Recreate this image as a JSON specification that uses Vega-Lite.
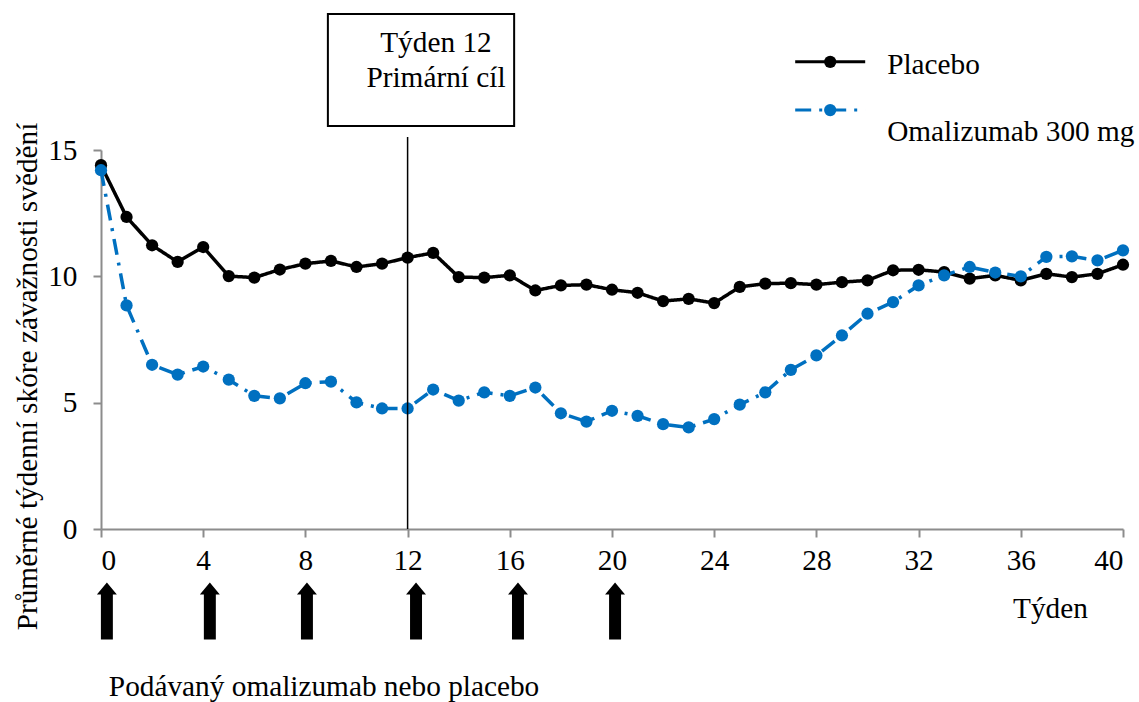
{
  "$schema": "https://vega.github.io/schema/vega-lite/v6.json",
  "width": 1022,
  "height": 379,
  "autosize": {"type": "none"},
  "padding": {"left": 101, "top": 150, "right": 16, "bottom": 173},
  "background": "white",
  "config": {
    "view": {"stroke": null},
    "font": "Liberation Serif",
    "text": {"font": "Liberation Serif", "fontSize": 29.3, "color": "black"},
    "axis": {
      "labelFont": "Liberation Serif",
      "labelFontSize": 29.3,
      "labelColor": "black",
      "titleFont": "Liberation Serif",
      "titleFontSize": 29.3,
      "titleFontWeight": "normal",
      "titleColor": "black",
      "domainColor": "#8c8c8c",
      "domainWidth": 2,
      "tickColor": "#8c8c8c",
      "tickWidth": 2,
      "tickSize": 8,
      "grid": false
    },
    "axisX": {"labelPadding": 9, "labelAngle": 0, "titleX": 949, "titleY": 79, "titleBaseline": "middle", "titleAlign": "center"},
    "axisY": {"labelPadding": 16, "titleX": -74, "titleY": 226, "titleAngle": -90, "titleBaseline": "middle", "titleAlign": "center"}
  },
  "datasets": {
    "trend": [
      {"week": 0, "series": "Placebo", "score": 14.4},
      {"week": 1, "series": "Placebo", "score": 12.35},
      {"week": 2, "series": "Placebo", "score": 11.23},
      {"week": 3, "series": "Placebo", "score": 10.57},
      {"week": 4, "series": "Placebo", "score": 11.16},
      {"week": 5, "series": "Placebo", "score": 10.01},
      {"week": 6, "series": "Placebo", "score": 9.95},
      {"week": 7, "series": "Placebo", "score": 10.27},
      {"week": 8, "series": "Placebo", "score": 10.5},
      {"week": 9, "series": "Placebo", "score": 10.61},
      {"week": 10, "series": "Placebo", "score": 10.37},
      {"week": 11, "series": "Placebo", "score": 10.5},
      {"week": 12, "series": "Placebo", "score": 10.74},
      {"week": 13, "series": "Placebo", "score": 10.93},
      {"week": 14, "series": "Placebo", "score": 9.97},
      {"week": 15, "series": "Placebo", "score": 9.95},
      {"week": 16, "series": "Placebo", "score": 10.04},
      {"week": 17, "series": "Placebo", "score": 9.44},
      {"week": 18, "series": "Placebo", "score": 9.64},
      {"week": 19, "series": "Placebo", "score": 9.67},
      {"week": 20, "series": "Placebo", "score": 9.47},
      {"week": 21, "series": "Placebo", "score": 9.35},
      {"week": 22, "series": "Placebo", "score": 9.02},
      {"week": 23, "series": "Placebo", "score": 9.11},
      {"week": 24, "series": "Placebo", "score": 8.94},
      {"week": 25, "series": "Placebo", "score": 9.58},
      {"week": 26, "series": "Placebo", "score": 9.71},
      {"week": 27, "series": "Placebo", "score": 9.73},
      {"week": 28, "series": "Placebo", "score": 9.67},
      {"week": 29, "series": "Placebo", "score": 9.77},
      {"week": 30, "series": "Placebo", "score": 9.84},
      {"week": 31, "series": "Placebo", "score": 10.24},
      {"week": 32, "series": "Placebo", "score": 10.26},
      {"week": 33, "series": "Placebo", "score": 10.17},
      {"week": 34, "series": "Placebo", "score": 9.91},
      {"week": 35, "series": "Placebo", "score": 10.04},
      {"week": 36, "series": "Placebo", "score": 9.84},
      {"week": 37, "series": "Placebo", "score": 10.1},
      {"week": 38, "series": "Placebo", "score": 9.97},
      {"week": 39, "series": "Placebo", "score": 10.1},
      {"week": 40, "series": "Placebo", "score": 10.46},
      {"week": 0, "series": "Omalizumab 300 mg", "score": 14.2},
      {"week": 1, "series": "Omalizumab 300 mg", "score": 8.85},
      {"week": 2, "series": "Omalizumab 300 mg", "score": 6.5},
      {"week": 3, "series": "Omalizumab 300 mg", "score": 6.11},
      {"week": 4, "series": "Omalizumab 300 mg", "score": 6.43},
      {"week": 5, "series": "Omalizumab 300 mg", "score": 5.91},
      {"week": 6, "series": "Omalizumab 300 mg", "score": 5.27},
      {"week": 7, "series": "Omalizumab 300 mg", "score": 5.17},
      {"week": 8, "series": "Omalizumab 300 mg", "score": 5.77},
      {"week": 9, "series": "Omalizumab 300 mg", "score": 5.83},
      {"week": 10, "series": "Omalizumab 300 mg", "score": 5.01},
      {"week": 11, "series": "Omalizumab 300 mg", "score": 4.77},
      {"week": 12, "series": "Omalizumab 300 mg", "score": 4.77},
      {"week": 13, "series": "Omalizumab 300 mg", "score": 5.52},
      {"week": 14, "series": "Omalizumab 300 mg", "score": 5.08},
      {"week": 15, "series": "Omalizumab 300 mg", "score": 5.41},
      {"week": 16, "series": "Omalizumab 300 mg", "score": 5.27},
      {"week": 17, "series": "Omalizumab 300 mg", "score": 5.6},
      {"week": 18, "series": "Omalizumab 300 mg", "score": 4.58},
      {"week": 19, "series": "Omalizumab 300 mg", "score": 4.25},
      {"week": 20, "series": "Omalizumab 300 mg", "score": 4.68},
      {"week": 21, "series": "Omalizumab 300 mg", "score": 4.48},
      {"week": 22, "series": "Omalizumab 300 mg", "score": 4.15},
      {"week": 23, "series": "Omalizumab 300 mg", "score": 4.02},
      {"week": 24, "series": "Omalizumab 300 mg", "score": 4.35},
      {"week": 25, "series": "Omalizumab 300 mg", "score": 4.92},
      {"week": 26, "series": "Omalizumab 300 mg", "score": 5.41},
      {"week": 27, "series": "Omalizumab 300 mg", "score": 6.3},
      {"week": 28, "series": "Omalizumab 300 mg", "score": 6.87},
      {"week": 29, "series": "Omalizumab 300 mg", "score": 7.66},
      {"week": 30, "series": "Omalizumab 300 mg", "score": 8.52},
      {"week": 31, "series": "Omalizumab 300 mg", "score": 8.98},
      {"week": 32, "series": "Omalizumab 300 mg", "score": 9.64},
      {"week": 33, "series": "Omalizumab 300 mg", "score": 10.04},
      {"week": 34, "series": "Omalizumab 300 mg", "score": 10.37},
      {"week": 35, "series": "Omalizumab 300 mg", "score": 10.15},
      {"week": 36, "series": "Omalizumab 300 mg", "score": 10.0},
      {"week": 37, "series": "Omalizumab 300 mg", "score": 10.77},
      {"week": 38, "series": "Omalizumab 300 mg", "score": 10.79},
      {"week": 39, "series": "Omalizumab 300 mg", "score": 10.63},
      {"week": 40, "series": "Omalizumab 300 mg", "score": 11.03}
    ],
    "legend": [
      {"series": "Placebo", "week": 27.17, "week2": 29.91, "mid": 28.54, "score": 18.49, "textweek": 30.77, "textscore": 18.36},
      {"series": "Omalizumab 300 mg", "week": 27.17, "week2": 29.91, "mid": 28.54, "score": 16.58, "textweek": 30.77, "textscore": 15.72}
    ],
    "arrows": [
      {"week": 0.23, "score": -3.25},
      {"week": 4.26, "score": -3.25},
      {"week": 8.06, "score": -3.25},
      {"week": 12.33, "score": -3.25},
      {"week": 16.32, "score": -3.25},
      {"week": 20.12, "score": -3.25}
    ],
    "box": [
      {"week": 8.88, "week2": 16.17, "score": 15.95, "score2": 20.38}
    ],
    "boxtext": [
      {"week": 13.11, "score": 19.22, "text": "Týden 12"},
      {"week": 13.11, "score": 17.83, "text": "Primární cíl"}
    ],
    "marker": [
      {"week": 12, "score": 0, "score2": 15.51}
    ],
    "note": [
      {"week": 8.73, "score": -6.24, "text": "Podávaný omalizumab nebo placebo"}
    ]
  },
  "layer": [
    {
      "data": {"name": "trend"},
      "mark": {"type": "line", "strokeWidth": 3.5},
      "encoding": {
        "x": {"field": "week", "type": "quantitative", "title": "Týden",
              "scale": {"domain": [0, 40], "nice": false, "zero": false},
              "axis": {"values": [0, 4, 8, 12, 16, 20, 24, 28, 32, 36, 40]}},
        "y": {"field": "score", "type": "quantitative", "title": "Průměrné týdenní skóre závažnosti svědění",
              "scale": {"domain": [0, 15], "nice": false, "zero": false},
              "axis": {"values": [0, 5, 10, 15]}},
        "color": {"field": "series", "type": "nominal",
                  "scale": {"domain": ["Placebo", "Omalizumab 300 mg"], "range": ["#000000", "#0070C0"]},
                  "legend": null},
        "strokeDash": {"field": "series", "type": "nominal",
                       "scale": {"domain": ["Placebo", "Omalizumab 300 mg"], "range": [[1, 0], [16, 8, 3, 8]]},
                       "legend": null},
        "order": {"field": "week", "type": "quantitative"}
      }
    },
    {
      "data": {"name": "trend"},
      "mark": {"type": "point", "filled": true, "opacity": 1, "size": 150},
      "encoding": {
        "x": {"field": "week", "type": "quantitative", "title": "Týden", "scale": {"domain": [0, 40], "nice": false, "zero": false}},
        "y": {"field": "score", "type": "quantitative", "title": "Průměrné týdenní skóre závažnosti svědění", "scale": {"domain": [0, 15], "nice": false, "zero": false}},
        "color": {"field": "series", "type": "nominal", "legend": null}
      }
    },
    {
      "data": {"name": "marker"},
      "mark": {"type": "rule", "color": "black", "strokeWidth": 1.5},
      "encoding": {
        "x": {"field": "week", "type": "quantitative", "title": "Týden"},
        "y": {"field": "score", "type": "quantitative", "title": "Průměrné týdenní skóre závažnosti svědění"},
        "y2": {"field": "score2"}
      }
    },
    {
      "data": {"name": "box"},
      "mark": {"type": "rect", "fill": "white", "stroke": "black", "strokeWidth": 2},
      "encoding": {
        "x": {"field": "week", "type": "quantitative", "title": "Týden"},
        "x2": {"field": "week2"},
        "y": {"field": "score", "type": "quantitative", "title": "Průměrné týdenní skóre závažnosti svědění"},
        "y2": {"field": "score2"}
      }
    },
    {
      "data": {"name": "boxtext"},
      "mark": {"type": "text", "align": "center", "baseline": "middle", "fontSize": 29.3, "font": "Liberation Serif"},
      "encoding": {
        "x": {"field": "week", "type": "quantitative", "title": "Týden"},
        "y": {"field": "score", "type": "quantitative", "title": "Průměrné týdenní skóre závažnosti svědění"},
        "text": {"field": "text"}
      }
    },
    {
      "data": {"name": "legend"},
      "mark": {"type": "rule", "strokeWidth": 3},
      "encoding": {
        "x": {"field": "week", "type": "quantitative", "title": "Týden"},
        "x2": {"field": "week2"},
        "y": {"field": "score", "type": "quantitative", "title": "Průměrné týdenní skóre závažnosti svědění"},
        "color": {"field": "series", "type": "nominal", "legend": null},
        "strokeDash": {"field": "series", "type": "nominal", "legend": null}
      }
    },
    {
      "data": {"name": "legend"},
      "mark": {"type": "point", "filled": true, "opacity": 1, "size": 150},
      "encoding": {
        "x": {"field": "mid", "type": "quantitative", "title": "Týden"},
        "y": {"field": "score", "type": "quantitative", "title": "Průměrné týdenní skóre závažnosti svědění"},
        "color": {"field": "series", "type": "nominal", "legend": null}
      }
    },
    {
      "data": {"name": "legend"},
      "mark": {"type": "text", "align": "left", "baseline": "middle", "fontSize": 29.3, "color": "black", "font": "Liberation Serif"},
      "encoding": {
        "x": {"field": "textweek", "type": "quantitative", "title": "Týden"},
        "y": {"field": "textscore", "type": "quantitative", "title": "Průměrné týdenní skóre závažnosti svědění"},
        "text": {"field": "series"}
      }
    },
    {
      "data": {"name": "arrows"},
      "mark": {"type": "point", "filled": true, "opacity": 1, "color": "black", "size": 3249,
               "shape": "M0,-1 L0.35,-0.58 L0.21,-0.58 L0.21,1 L-0.21,1 L-0.21,-0.58 L-0.35,-0.58 Z"},
      "encoding": {
        "x": {"field": "week", "type": "quantitative", "title": "Týden"},
        "y": {"field": "score", "type": "quantitative", "title": "Průměrné týdenní skóre závažnosti svědění"}
      }
    },
    {
      "data": {"name": "note"},
      "mark": {"type": "text", "align": "center", "baseline": "middle", "fontSize": 29.3, "font": "Liberation Serif"},
      "encoding": {
        "x": {"field": "week", "type": "quantitative", "title": "Týden"},
        "y": {"field": "score", "type": "quantitative", "title": "Průměrné týdenní skóre závažnosti svědění"},
        "text": {"field": "text"}
      }
    }
  ]
}
